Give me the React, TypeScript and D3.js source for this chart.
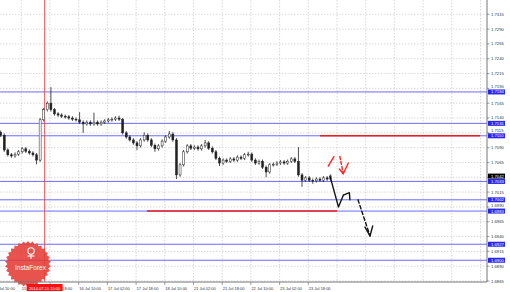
import React from 'react';
import * as d3 from 'd3';

const W = 510;
const H = 292;
const PLOT_RIGHT = 487;
const PLOT_BOTTOM = 282;

const priceTicks = [1.7315, 1.729, 1.7265, 1.724, 1.7215, 1.719, 1.7165, 1.714, 1.7115, 1.709, 1.7065, 1.704, 1.7015, 1.699, 1.6965, 1.694, 1.6915, 1.689, 1.6865];
const timeLabels = ['14 Jul 10:00', '15 Jul 02:00', '15 Jul 18:00', '16 Jul 10:00', '17 Jul 02:00', '17 Jul 18:00', '18 Jul 10:00', '21 Jul 02:00', '21 Jul 18:00', '22 Jul 10:00', '23 Jul 02:00', '23 Jul 18:00'];
const timeLabelBars = [0, 16, 32, 48, 64, 80, 96, 112, 128, 144, 160, 176];
const gridBars = d3.range(0, 273, 16);

const candleStartBar = 4;
const barsPerCandle = 2;
const firstOpen = 1.7116;
const closes = [
  1.7111, 1.7086, 1.7078, 1.7076, 1.7079, 1.7083, 1.7088, 1.7084, 1.7081, 1.7078,
  1.7069, 1.7137, 1.7154, 1.7165, 1.7154, 1.7147, 1.7145, 1.7143, 1.7142, 1.714,
  1.7138, 1.7137, 1.7133, 1.713, 1.7133, 1.713, 1.7133, 1.713, 1.7133, 1.7135,
  1.7137, 1.7138, 1.714, 1.7138, 1.7115, 1.7108, 1.7103, 1.7098, 1.7093, 1.7103,
  1.7111, 1.7103, 1.7094, 1.7088, 1.7093, 1.7101, 1.7108, 1.7113, 1.7103, 1.7044,
  1.7061, 1.7083, 1.7093, 1.7089, 1.7091, 1.7088, 1.7093, 1.7098, 1.7089, 1.7083,
  1.7072, 1.7064, 1.7069, 1.7067, 1.7071, 1.7069, 1.7074, 1.7072, 1.7078, 1.7079,
  1.7069, 1.7064, 1.7067, 1.7057, 1.7049, 1.7061, 1.7062, 1.7064, 1.7066, 1.7064,
  1.7067, 1.7071, 1.7067, 1.7044, 1.7035, 1.7039, 1.7035, 1.7034, 1.7037, 1.7035,
  1.7039, 1.7037, 1.7042,
];
const highs = [
  1.7119, 1.7114, 1.7089, 1.7081, 1.7082, 1.7086, 1.7091, 1.7091, 1.7087, 1.7084,
  1.7081, 1.714, 1.7157, 1.7168, 1.7192, 1.7157, 1.715, 1.7148, 1.7146, 1.7145,
  1.7143, 1.7141, 1.715, 1.7136, 1.7136, 1.7136, 1.7149, 1.7136, 1.7136, 1.7138,
  1.714, 1.7141, 1.7143, 1.7144, 1.714, 1.7118, 1.7111, 1.7106, 1.7101, 1.7106,
  1.7116, 1.7114, 1.7106, 1.7097, 1.7096, 1.7104, 1.7111, 1.7118, 1.7116, 1.7106,
  1.7064, 1.7086, 1.7096, 1.7096, 1.7094, 1.7094, 1.7096, 1.7103, 1.7101, 1.7092,
  1.7086, 1.7075, 1.7072, 1.7072, 1.7074, 1.7074, 1.7077, 1.7077, 1.7081, 1.7083,
  1.7082, 1.7072, 1.707, 1.707, 1.706, 1.7064, 1.7065, 1.7067, 1.7069, 1.7069,
  1.707, 1.7074, 1.7074, 1.7091, 1.7047, 1.7042, 1.7042, 1.7038, 1.704, 1.704,
  1.7042, 1.7042, 1.7045,
];
const lows = [
  1.7108, 1.7083, 1.7075, 1.7073, 1.7073, 1.7076, 1.708, 1.7081, 1.7078, 1.7075,
  1.7062, 1.7066, 1.7134, 1.7151, 1.7151, 1.7144, 1.7142, 1.714, 1.7139, 1.7137,
  1.7135, 1.7134, 1.713, 1.7115, 1.7127, 1.7127, 1.7127, 1.7127, 1.7127, 1.713,
  1.7132, 1.7134, 1.7135, 1.7135, 1.7112, 1.7105, 1.71, 1.7095, 1.7086, 1.709,
  1.71, 1.71, 1.7091, 1.7083, 1.7085, 1.709, 1.7098, 1.7105, 1.71, 1.7037,
  1.7041, 1.7058, 1.708, 1.7086, 1.7086, 1.7085, 1.7085, 1.709, 1.7086, 1.708,
  1.7069, 1.7059, 1.7061, 1.7064, 1.7064, 1.7066, 1.7066, 1.7069, 1.7069, 1.7075,
  1.7066, 1.7061, 1.7061, 1.7054, 1.704, 1.7046, 1.7058, 1.7059, 1.7061, 1.7061,
  1.7061, 1.7064, 1.7064, 1.7041, 1.7024, 1.7032, 1.7032, 1.7029, 1.7031, 1.7032,
  1.7032, 1.7034, 1.7034,
];

const blueLevels = [1.7184, 1.7131, 1.711, 1.7033, 1.7002, 1.6983, 1.6927, 1.69];
const redLevels = [
  { price: 1.711, fromBar: 182.5, toBar: 271.7 },
  { price: 1.6983, fromBar: 86, toBar: 192 },
];
const crosshairBar = 29;
const crosshairLabel = '2014.07.15 15:00';

type P = [number, number];
const redSolid: P[] = [[187.1, 1.7059], [190.3, 1.7075]];
const redDashed: P[] = [[193.6, 1.7075], [195.5, 1.7046]];
const redHead: P[] = [[193.3, 1.7054], [195.5, 1.7046], [198.3, 1.7064]];
const blackSolid: P[] = [[188.1, 1.7042], [192.8, 1.699], [195.6, 1.701]];
const blackHead1: P[] = [[195.6, 1.701], [198.9, 1.7014], [199.2, 1.7002]];
const blackDashed: P[] = [[203.7, 1.7002], [210.4, 1.6941]];
const blackHead2: P[] = [[207.6, 1.6956], [210.4, 1.6941], [211.9, 1.6958]];

const x = d3.scaleLinear().domain([0, 176]).range([-7.4, 308.3]);
const y = d3.scaleLinear().domain([1.6865, 1.7315]).range([281, 14.3]);
const line = d3.line<P>().x((d) => x(d[0])).y((d) => y(d[1]));
const fmt = d3.format('.4f');

function Logo() {
  const cx = 28, cy = 264, R = 23, teeth = 30;
  const pts: [number, number][] = d3.range(teeth * 2).map((i) => {
    const a = (i * Math.PI) / teeth;
    const r = i % 2 === 0 ? R : R - 2.4;
    return [cx + r * Math.sin(a), cy - r * Math.cos(a)];
  });
  const path = d3.line().curve(d3.curveLinearClosed)(pts) || '';
  return (
    <g>
      <path d={path} fill="#e53b34" opacity={0.88} />
      <g stroke="#fff" strokeWidth={1.1} fill="none">
        <circle cx={31} cy={251} r={3.2} />
        <line x1={31} y1={254} x2={31} y2={259} />
        <line x1={27.5} y1={256} x2={34.5} y2={256} />
      </g>
      <text x={30.5} y={269.5} fontSize={6.6} fill="#fff" textAnchor="middle" fontFamily="Liberation Sans, Arial, sans-serif">InstaForex</text>
    </g>
  );
}

export default function App() {
  const candles = closes.map((c, i) => {
    const o = i === 0 ? firstOpen : closes[i - 1];
    return { o, c, h: highs[i], l: lows[i], bar: candleStartBar + barsPerCandle * i + 0.5 };
  });
  const lastClose = closes[closes.length - 1];
  const font = 'Liberation Sans, Arial, sans-serif';
  const boxYs = [lastClose, ...blueLevels].map((p) => y(p));
  const visibleTicks = priceTicks.filter((p) => boxYs.every((by) => Math.abs(by - y(p)) > 2.5));
  const tickNudge = (p: number) => {
    const near = boxYs.find((by) => by - y(p) > 0 && by - y(p) < 5.5);
    return near !== undefined ? -(5.5 - (near - y(p))) : 0;
  };
  return (
    <svg width={W} height={H} style={{ position: 'absolute', left: 0, top: 0, background: '#fff' }}>
      <rect x={0} y={0} width={W} height={H} fill="#fff" />
      <g stroke="#c9c9c9" strokeWidth={0.7} strokeDasharray="1.5,1.5">
        {priceTicks.map((p) => (
          <line key={'h' + p} x1={0} x2={PLOT_RIGHT} y1={y(p)} y2={y(p)} />
        ))}
        {gridBars.map((b) => (
          <line key={'v' + b} x1={x(b)} x2={x(b)} y1={0} y2={PLOT_BOTTOM} />
        ))}
      </g>
      <g stroke="#6a6aff" strokeWidth={1}>
        {blueLevels.map((p) => (
          <line key={'b' + p} x1={0} x2={PLOT_RIGHT} y1={y(p)} y2={y(p)} />
        ))}
      </g>
      <g stroke="#ee1c1c" strokeWidth={1.6}>
        {redLevels.map((r) => (
          <line key={'r' + r.price} x1={x(r.fromBar)} x2={Math.min(x(r.toBar), PLOT_RIGHT - 7)} y1={y(r.price)} y2={y(r.price)} />
        ))}
      </g>
      <line x1={x(crosshairBar)} x2={x(crosshairBar)} y1={0} y2={PLOT_BOTTOM} stroke="#f03030" strokeWidth={0.8} />
      <g>
        {candles.map((d, i) => {
          const cxp = x(d.bar);
          const top = y(Math.max(d.o, d.c));
          const bot = y(Math.min(d.o, d.c));
          const up = d.c > d.o;
          return (
            <g key={i}>
              <line x1={cxp} x2={cxp} y1={y(d.h)} y2={y(d.l)} stroke="#222" strokeWidth={0.8} />
              <rect x={cxp - 1} y={top} width={2} height={Math.max(bot - top, 0.8)} fill={up ? '#fff' : '#222'} stroke="#222" strokeWidth={0.5} />
            </g>
          );
        })}
      </g>
      <g fill="none" strokeLinecap="round" strokeLinejoin="round">
        <path d={line(redSolid) || ''} stroke="#f22" strokeWidth={1.4} />
        <path d={line(redDashed) || ''} stroke="#f22" strokeWidth={1.4} strokeDasharray="3,2" />
        <path d={line(redHead) || ''} stroke="#f22" strokeWidth={1.4} />
        <path d={line(blackSolid) || ''} stroke="#111" strokeWidth={1.4} />
        <path d={line(blackHead1) || ''} stroke="#111" strokeWidth={1.4} />
        <path d={line(blackDashed) || ''} stroke="#111" strokeWidth={1.4} strokeDasharray="3.5,2.5" />
        <path d={line(blackHead2) || ''} stroke="#111" strokeWidth={1.4} />
      </g>
      <Logo />
      <line x1={PLOT_RIGHT} x2={PLOT_RIGHT} y1={0} y2={PLOT_BOTTOM} stroke="#777" strokeWidth={1} />
      <line x1={0} x2={PLOT_RIGHT} y1={PLOT_BOTTOM} y2={PLOT_BOTTOM} stroke="#777" strokeWidth={1} />
      <g fontFamily={font} fontSize={4.2} fill="#333">
        {priceTicks.map((p) => (
          <line key={'tk' + p} x1={PLOT_RIGHT} x2={PLOT_RIGHT + 2.5} y1={y(p)} y2={y(p)} stroke="#777" strokeWidth={0.7} />
        ))}
        {visibleTicks.map((p) => (
          <text key={'t' + p} x={PLOT_RIGHT + 4} y={y(p) + 1.5 + tickNudge(p)}>{fmt(p)}</text>
        ))}
      </g>
      <g fontFamily={font} fontSize={4.2}>
        <rect x={PLOT_RIGHT + 1} y={y(lastClose) - 2.5} width={17} height={5} fill="#000" />
        <text x={PLOT_RIGHT + 4} y={y(lastClose) + 1.5} fill="#fff">{fmt(lastClose)}</text>
        {blueLevels.map((p) => (
          <g key={'bl' + p}>
            <rect x={PLOT_RIGHT + 1} y={y(p) - 2.5} width={17} height={5} fill="#2626f2" />
            <text x={PLOT_RIGHT + 4} y={y(p) + 1.5} fill="#fff">{fmt(p)}</text>
          </g>
        ))}
      </g>
      <g fontFamily={font} fontSize={4} fill="#333">
        {timeLabels.map((t, i) => (
          <g key={t}>
            <line x1={x(timeLabelBars[i])} x2={x(timeLabelBars[i])} y1={PLOT_BOTTOM} y2={PLOT_BOTTOM + 3} stroke="#777" strokeWidth={0.7} />
            <text x={x(timeLabelBars[i]) + 0.5} y={289.5}>{t}</text>
          </g>
        ))}
        <rect x={x(crosshairBar) - 18} y={284} width={36} height={7} fill="#ff1010" />
        <text x={x(crosshairBar)} y={289.5} fill="#fff" textAnchor="middle">{crosshairLabel}</text>
      </g>
    </svg>
  );
}
